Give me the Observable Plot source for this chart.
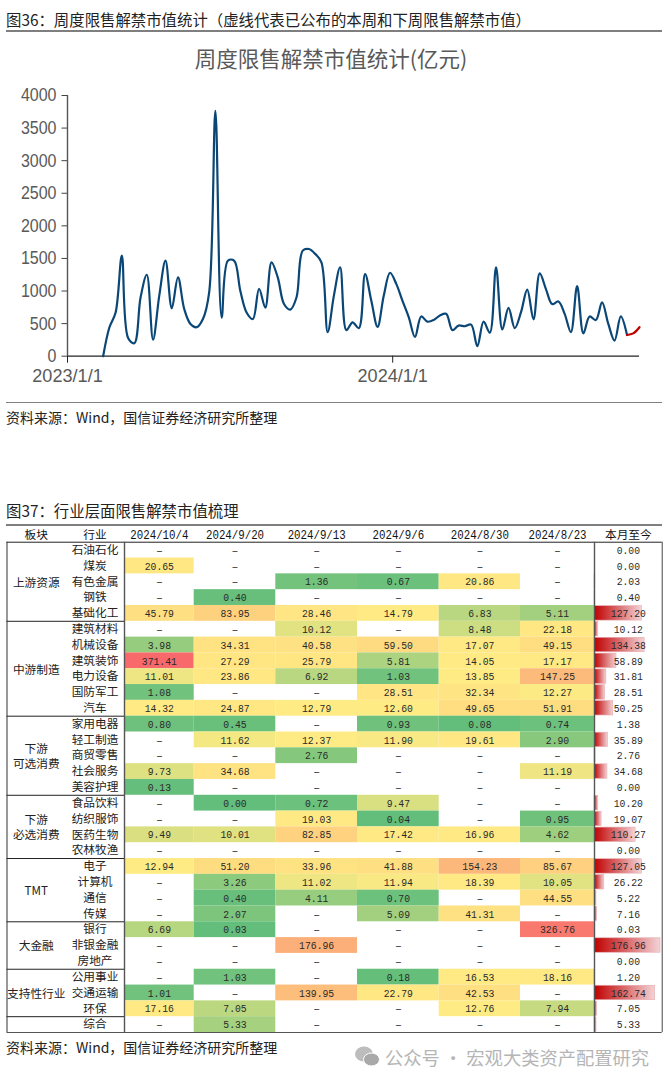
<!DOCTYPE html>
<html lang="zh"><head><meta charset="utf-8">
<script src="https://cdn.jsdelivr.net/npm/d3@7"></script>
<script src="https://cdn.jsdelivr.net/npm/@observablehq/plot@0.6"></script>
<style>
html,body{margin:0;padding:0;background:#fff;width:671px;height:1083px;overflow:hidden}
body{position:relative;font-family:"Noto Sans CJK SC","Noto Sans",sans-serif}
.t{position:absolute;white-space:nowrap;color:#222;line-height:1}
.r{position:absolute;left:6px;width:656px;background:#7f7f7f}
svg{position:absolute;overflow:visible;background:transparent}
</style></head><body>
<div class="t" style="left:6px;top:12px;font-size:15.4px">图36：周度限售解禁市值统计（虚线代表已公布的本周和下周限售解禁市值）</div>
<div class="r" style="top:30px;height:2px"></div>
<div class="t" style="left:0;width:662px;text-align:center;top:47px;font-size:21.5px;color:#595959">周度限售解禁市值统计(亿元)</div>
<div id="chart"></div>
<div class="r" style="top:402px;height:1px"></div>
<div class="t" style="left:6px;top:410px;font-size:14px">资料来源：Wind，国信证券经济研究所整理</div>
<div class="t" style="left:6px;top:503px;font-size:15.4px">图37：行业层面限售解禁市值梳理</div>
<div class="r" style="top:524px;height:2px"></div>
<div id="table"></div>
<div class="t" style="left:6px;top:1040px;font-size:14px">资料来源：Wind，国信证券经济研究所整理</div>
<svg style="left:355px;top:1046px" width="25" height="22" viewBox="0 0 25 22"><ellipse cx="9" cy="8" rx="9" ry="7.5" fill="#bdbdbd"/><ellipse cx="16.5" cy="13.5" rx="8" ry="6.5" fill="#a9a9a9" stroke="#fff"/></svg>
<div class="t" style="left:385px;top:1048px;font-size:18.3px;color:#b5b5b5">公众号 · 宏观大类资产配置研究</div>
<script>
// ---------- weekly unlock value (亿元), one value per week
const firstWeek = "2023-02-10";
const historyValues = [0,440,670,1545,280,200,900,1250,255,930,1465,735,1210,725,495,445,570,980,3765,590,1465,1465,1000,670,570,1035,745,1440,1210,800,715,900,1620,1645,1570,1440,370,930,1365,400,520,430,1260,850,450,930,1280,1110,850,600,295,610,530,555,625,650,400,470,460,485,155,530,360,1365,410,740,430,675,1020,565,1270,1030,800,840,650,370,1075,350,610,555,825,495,240,610,325];
const announcedValues = [325,350,445];
const yTicks = [0,500,1000,1500,2000,2500,3000,3500,4000];
const xTickDates = ["2023-01-01","2024-01-01"];
const xTickLabels = ["2023/1/1","2024/1/1"];
const lastWeek = "2024-10-04";

// ---------- table
const sectors = ["上游资源","中游制造","下游\n可选消费","下游\n必选消费","TMT","大金融","支持性行业",""];
const sectorSizes = [5,6,5,4,4,3,3,1];
const industries = ["石油石化","煤炭","有色金属","钢铁","基础化工","建筑材料","机械设备","建筑装饰","电力设备","国防军工","汽车","家用电器","轻工制造","商贸零售","社会服务","美容护理","食品饮料","纺织服饰","医药生物","农林牧渔","电子","计算机","通信","传媒","银行","非银金融","房地产","公用事业","交通运输","环保","综合"];
const weekLabels = ["2024/10/4","2024/9/20","2024/9/13","2024/9/6","2024/8/30","2024/8/23"];
const w1004 = [null,20.65,null,null,45.79,null,3.98,371.41,11.01,1.08,14.32,0.80,null,null,9.73,0.13,null,null,9.49,null,12.94,null,null,null,6.69,null,null,null,1.01,17.16,null];
const w0920 = [null,null,null,0.40,83.95,null,34.31,27.29,23.86,null,24.87,0.45,11.62,null,34.68,null,0.00,null,10.01,null,51.20,3.26,0.40,2.07,0.03,null,null,1.03,null,7.05,5.33];
const w0913 = [null,null,1.36,null,28.46,10.12,40.58,25.79,6.92,null,12.79,null,12.37,2.76,null,null,0.72,19.03,82.85,null,33.96,11.02,4.11,null,null,176.96,null,null,139.95,null,null];
const w0906 = [null,null,0.67,null,14.79,null,59.50,5.81,1.03,28.51,12.60,0.93,11.90,null,null,null,9.47,0.04,17.42,null,41.88,11.94,0.70,5.09,null,null,null,0.18,22.79,null,null];
const w0830 = [null,null,20.86,null,6.83,8.48,17.07,14.05,13.85,32.34,49.65,0.08,19.61,null,null,null,null,null,16.96,null,154.23,18.39,null,41.31,null,null,null,16.53,42.53,12.76,null];
const w0823 = [null,null,null,null,5.11,22.18,49.15,17.17,147.25,12.27,51.91,0.74,2.90,null,11.19,null,null,0.95,4.62,null,85.67,10.05,44.55,null,326.76,null,null,18.16,null,7.94,null];
const monthToDate = [0,0,2.03,0.40,127.20,10.12,134.38,58.89,31.81,28.51,50.25,1.38,35.89,2.76,34.68,0,10.20,19.07,110.27,0,127.05,26.22,5.22,7.16,0.03,176.96,0,1.20,162.74,7.05,5.33];

// ---------- line chart
const D = s => new Date(s + "T00:00:00Z");
const weekDate = i => d3.utcDay.offset(D(firstWeek), 7 * i);
const history = historyValues.map((v, i) => ({date: weekDate(i), v}));
const announced = announcedValues.map((v, i) => ({date: weekDate(historyValues.length - 1 + i), v}));
const axisFont = '"Liberation Sans",sans-serif';

// the source's tick and table digits are narrow: compress them to the same advance
const squeeze = (root, selector, test, advance) => {
  d3.select(root).selectAll(selector).each(function() {
    const s = this.textContent;
    if (test(s)) { this.setAttribute("textLength", s.length * advance); this.setAttribute("lengthAdjust", "spacingAndGlyphs"); }
  });
};

const chart = Plot.plot({
  width: 671, height: 325,
  marginLeft: 67, marginRight: 32, marginTop: 20, marginBottom: 44.3,
  x: {type: "utc", domain: [D(xTickDates[0]), D(lastWeek)]},
  y: {domain: [0, 4000]},
  marks: [
    Plot.axisY({ticks: yTicks, tickSize: 5.5, tickPadding: 5.5, tickFormat: d => String(d), fontSize: 18.5, fontFamily: axisFont, color: "#595959", stroke: "#444", label: null}),
    Plot.axisX({ticks: xTickDates.map(D), tickSize: 7, tickPadding: 6, tickFormat: d => xTickLabels[xTickDates.findIndex(s => +D(s) === +d)], fontSize: 18.5, fontFamily: axisFont, color: "#595959", stroke: "#222", label: null}),
    Plot.ruleX([D(xTickDates[0])], {y1: 0, y2: 4000, stroke: "#555", strokeWidth: 1.4}),
    Plot.ruleY([0], {stroke: "#222", strokeWidth: 1.2}),
    Plot.line(history, {x: "date", y: "v", curve: "catmull-rom", stroke: "#0b4776", strokeWidth: 2.2}),
    Plot.line(announced, {x: "date", y: "v", curve: "catmull-rom", stroke: "#c00000", strokeWidth: 2.2})
  ]
});
chart.style.left = "0px"; chart.style.top = "75px";
squeeze(chart, "text", s => /^\d+$/.test(s), 8.9);
squeeze(chart, "text", s => s.includes("/"), 8.8);
document.getElementById("chart").append(chart);

// ---------- table drawn through piecewise position scales
const weekCols = [w1004, w0920, w0913, w0906, w0830, w0823];
const cells = weekCols.flatMap((col, c) => col.map((value, r) => ({c, r, value})));
const filled = cells.filter(d => d.value != null);
const mono = '"Liberation Mono","DejaVu Sans Mono",monospace';
const cjk = '"Noto Sans CJK SC",sans-serif';
const FIRST_WEEK_COL = 2, MTD_COL = 8;
const barMax = d3.max(monthToDate) / 0.975;
let start = 0;
const groups = sectors.map((name, i) => { const g = {name, start, end: start + sectorSizes[i]}; start = g.end; return g; });
const mtdRows = monthToDate.map((v, r) => ({v, r}));

const table = Plot.plot({
  width: 671, height: 520,
  margin: 0,
  x: {type: "linear", axis: null, domain: [0,1,2,3,4,5,6,7,8,9], range: [6.5,65,124,193.7,275.3,357,438.7,520,594,661.7]},
  y: {type: "linear", axis: null, domain: [-1,31], range: [5.9,512]},
  color: {type: "linear", domain: [0, d3.median(filled, d => d.value), d3.max(filled, d => d.value)], range: ["#63BE7B","#FFEB84","#F8696B"]},
  marks: [
    Plot.rect(filled, {x1: d => FIRST_WEEK_COL + d.c, x2: d => FIRST_WEEK_COL + d.c + 1, y1: "r", y2: d => d.r + 1, fill: "value"}),
    Plot.rect(mtdRows.filter(d => d.v > 0), {x1: MTD_COL, x2: d => MTD_COL + d.v / barMax, y1: "r", y2: d => d.r + 1, insetTop: 0.7, insetBottom: 0.7, fill: "url(#databar)", stroke: "#e6a9ae", strokeWidth: 0.6}),
    // structure
    Plot.ruleY([0], {x1: 0, x2: 9, stroke: "#222", strokeWidth: 1}),
    Plot.ruleY([31], {x1: 0, x2: 9, stroke: "#555", strokeWidth: 1.2}),
    Plot.ruleY(groups.slice(0, -1).map(g => g.end), {x1: 0, x2: 2, stroke: "#222", strokeWidth: 1}),
    Plot.ruleX([0], {y1: 0, y2: 31, stroke: "#333", strokeWidth: 1}),
    Plot.ruleX([2, MTD_COL], {y1: 0, y2: 31, stroke: "#555", strokeWidth: 1.4}),
    Plot.ruleX([9], {y1: 0, y2: 31, stroke: "#444", strokeWidth: 1}),
    // header
    Plot.text(["板块","行业"], {x: (d, i) => i + 0.5, y: -0.45, text: d => d, fontFamily: cjk, fontSize: 11.7, fill: "#111"}),
    Plot.text(weekLabels, {x: (d, i) => FIRST_WEEK_COL + i + 0.5, y: -0.45, text: d => d, fontFamily: mono, fontSize: 12, fill: "#111"}),
    Plot.text(["本月至今"], {x: MTD_COL + 0.5, y: -0.45, text: d => d, fontFamily: cjk, fontSize: 11.7, fill: "#111"}),
    // labels
    Plot.text(groups, {x: 0.5, y: g => (g.start + g.end) / 2, text: "name", fontFamily: cjk, fontSize: 11.7, lineHeight: 1.3, fill: "#222"}),
    Plot.text(industries, {x: 1.5, y: (d, i) => i + 0.5, text: d => d, fontFamily: cjk, fontSize: 11.7, fill: "#222"}),
    // values
    Plot.text(cells, {x: d => FIRST_WEEK_COL + d.c + 0.5, y: d => d.r + 0.5, text: d => d.value == null ? "–" : d.value.toFixed(2), fontFamily: mono, fontSize: 11.5, fill: "#2a2a2a"}),
    Plot.text(mtdRows, {x: MTD_COL + 0.5, y: d => d.r + 0.5, text: d => d.v.toFixed(2), fontFamily: mono, fontSize: 11.5, fill: "#2a2a2a"})
  ]
});
table.style.left = "0px"; table.style.top = "520px";
squeeze(table, "text", s => /^\d+\.\d+$/.test(s), 5.85);
squeeze(table, "text", s => s.includes("/"), 6.45);
const defs = d3.select(table).insert("defs", ":first-child");
const grad = defs.append("linearGradient").attr("id", "databar").attr("x1", 0).attr("x2", 1).attr("y1", 0).attr("y2", 0);
grad.append("stop").attr("offset", "0%").attr("stop-color", "#c00000");
grad.append("stop").attr("offset", "100%").attr("stop-color", "#f3d3d6");
document.getElementById("table").append(table);
</script>
</body></html>
